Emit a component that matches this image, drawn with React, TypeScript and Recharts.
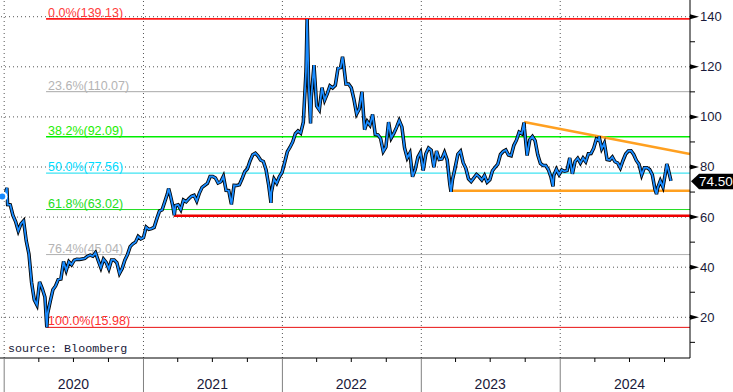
import React from 'react';
import { ComposedChart, Line, XAxis, YAxis, ReferenceLine } from 'recharts';

const DAY = 86400000;
const ms = (s: string) => Date.parse(s + 'T00:00:00Z');

// weekly Brent closes (Fridays), starting 2019-12-27
const firstWeek = '2019-12-27';
const brent2019 = [68.2];
const brent2020 = [
  68.6, 65.0, 64.9, 60.7, 58.2, 54.5, 57.3, 58.5, 50.5, 45.3, 33.9, 27.0, 24.9,
  34.1, 31.5, 28.1, 21.4, 26.4, 31.0, 32.5, 35.1, 35.3, 42.3, 38.7, 42.2, 41.0,
  42.8, 43.2, 43.1, 43.3, 43.5, 44.4, 44.8, 44.4, 45.8, 42.7, 39.8, 43.2, 41.9,
  39.3, 42.9, 42.9, 41.8, 37.5, 39.5, 42.8, 45.0, 48.2, 49.3, 50.0, 52.3, 51.3,
];
const brent2021 = [
  51.8, 56.0, 55.1, 55.4, 55.9, 59.3, 62.4, 62.9, 66.1, 69.4, 69.2, 64.5, 64.6,
  64.9, 63.0, 66.8, 66.1, 67.3, 68.3, 68.7, 66.4, 69.6, 71.9, 72.7, 73.5, 76.2,
  76.2, 75.6, 73.6, 74.1, 76.3, 70.7, 70.6, 65.2, 72.7, 72.6, 72.9, 75.3, 78.1,
  79.3, 82.4, 84.9, 85.5, 84.4, 82.7, 82.2, 78.9, 72.7, 69.9, 75.2, 73.5, 76.1, 77.8,
];
const brent2022 = [
  81.8, 86.1, 87.9, 90.0, 93.3, 94.4, 93.5, 97.9, 118.1, 112.7, 108.0, 120.7,
  104.4, 102.8, 111.7, 106.7, 109.3, 112.4, 111.6, 112.6, 119.4, 119.7, 122.0,
  113.1, 113.1, 111.6, 107.0, 101.2, 103.2, 110.0, 94.9, 98.2, 96.7, 101.0, 93.0,
  92.8, 91.4, 86.2, 88.0, 97.9, 91.6, 93.5, 95.8, 98.6, 96.0, 87.6, 83.6, 85.6,
  76.1, 79.0, 83.9, 85.9,
];
const brent2023 = [
  78.6, 85.3, 87.6, 86.7, 79.9, 86.4, 83.0, 83.2, 85.8, 82.8, 73.0, 75.0, 79.8,
  85.1, 86.3, 81.7, 79.5, 75.3, 74.2, 75.6, 77.0, 76.1, 74.8, 76.6, 73.9, 74.9,
  78.5, 79.9, 81.1, 85.0, 86.2, 86.8, 84.8, 84.5, 88.6, 90.7, 93.9, 93.3, 95.3,
  84.6, 90.9, 92.2, 90.5, 84.9, 81.4, 80.6, 80.6, 78.9, 75.8, 76.6, 79.1, 77.0,
];
const brent2024 = [
  78.8, 78.3, 78.6, 83.6, 77.3, 82.2, 83.5, 81.6, 83.6, 82.1, 85.3, 85.4, 87.5,
  91.2, 90.5, 87.3, 89.5, 83.0, 82.8, 84.0, 82.1, 81.6, 79.6, 82.6, 85.2, 86.4,
  86.5, 85.0, 82.6, 81.1, 76.8, 79.7, 79.7, 79.0, 76.9, 71.1, 71.6, 74.5, 72.0,
  78.1, 79.0, 74.5,
];

// intraweek extremes
const extremeDays = ['2020-01-08', '2020-04-22', '2021-03-08', '2021-03-23', '2021-08-20', '2021-12-02',
  '2022-03-07', '2022-03-16', '2022-06-08', '2023-03-20', '2023-09-28', '2023-12-13', '2024-04-12',
  '2024-09-10', '2024-10-07'];
const extremeVals = [71.7, 16.0, 71.4, 60.8, 65.0, 65.7, 139.1, 97.4, 124.0, 70.1, 97.7, 72.3, 92.2, 69.2, 81.2];

const lastPrice = 74.5;

const fibPct = ['0.0%', '23.6%', '38.2%', '50.0%', '61.8%', '76.4%', '100.0%'];
const fibVal = [139.13, 110.07, 92.09, 77.56, 63.02, 45.04, 15.98];
const fibStart = '2020-04-20';

const supportStart = '2021-03-22';
const supportVal = 60.5;
const floorStart = '2023-03-20';
const floorVal = 70.5;
const trendDates = ['2023-09-28', '2024-12-07'];
const trendVals = [98.0, 85.2];

const gridY = [20, 40, 60, 80, 100, 120, 140];
const years = [2020, 2021, 2022, 2023, 2024];
const yTicks = [10, 20, 30, 40, 50, 60, 70, 80, 90, 100, 110, 120, 130, 140];

const xMin = ms('2019-12-21');
const xMax = ms('2024-12-07');

const fibLine = ['#ff1a1a', '#a8a8a8', '#00ee00', '#3fe3f2', '#22dd22', '#b0b0b0', '#e81010'];
const fibText = ['#ff3c3c', '#b4b4b4', '#22ee00', '#00dcff', '#22dd22', '#b4b4b4', '#ff3030'];
const fibWidth = [1.6, 1, 1.6, 1.3, 1, 1, 1];

const weeklyVals = [brent2019, brent2020, brent2021, brent2022, brent2023, brent2024].flat();
const data = [
  ...weeklyVals.map((v, i) => ({ t: ms(firstWeek) + i * 7 * DAY, v })),
  ...extremeDays.map((d, i) => ({ t: ms(d), v: extremeVals[i] })),
].sort((a, b) => a.t - b.t);

const quarterTicks: number[] = [];
years.forEach((y) => [0, 3, 6, 9].forEach((m) => {
  const t = Date.UTC(y, m, 1);
  if (t < xMax) quarterTicks.push(t);
}));

const axisText = '#1a1a3a';
const sans = 'Liberation Sans, Arial, sans-serif';

const YTick = (p: any) => {
  const { x, y, payload } = p;
  const v = payload.value;
  if (v % 20 !== 0) return <line x1={x} x2={x + 5} y1={y} y2={y} stroke="#000" />;
  return (
    <g>
      <polygon points={`${x},${y - 2.5} ${x},${y + 2.5} ${x + 9},${y}`} fill="#000" />
      <text x={x + 10} y={y} dy="0.34em" fontSize={13} fontFamily={sans} fill={axisText}>{v}</text>
    </g>
  );
};

const XTick = (p: any) => {
  const { x, y, payload } = p;
  const d = new Date(payload.value);
  const m = d.getUTCMonth();
  if (m === 0) return <line x1={x} x2={x} y1={y} y2={y + 34} stroke="#808080" />;
  return (
    <g>
      <line x1={x} x2={x} y1={y} y2={y + 4} stroke="#000" />
      {m === 6 && (
        <text x={x} y={y + 31} textAnchor="middle" fontSize={14} fontFamily={sans} fill={axisText}>
          {d.getUTCFullYear()}
        </text>
      )}
    </g>
  );
};

const fibLabel = (i: number) => (props: any) => {
  const vb = props.viewBox ?? props;
  return (
    <text x={vb.x + 2} y={vb.y - 2} fontSize={12.5} fontFamily={sans} fill={fibText[i]}>
      {`${fibPct[i]}(${fibVal[i].toFixed(2)})`}
    </text>
  );
};

const priceTag = (props: any) => {
  const vb = props.viewBox ?? props;
  const x = vb.x + vb.width;
  const y = vb.y + 0.5;
  return (
    <g>
      <polygon
        points={`${x + 1},${y} ${x + 9},${y - 7.5} ${x + 43},${y - 7.5} ${x + 43},${y + 8} ${x + 9},${y + 8}`}
        fill="#000"
      />
      <text x={x + 26} y={y} dy="0.36em" textAnchor="middle" fontSize={13.5} fontFamily={sans} fill="#fff">
        {lastPrice.toFixed(2)}
      </text>
    </g>
  );
};

export default function App() {
  return (
    <div style={{ position: 'absolute', left: 0, top: 0, width: 733, height: 392, background: '#fff' }}>
      <ComposedChart width={733} height={392} data={data} margin={{ top: 0, right: 0, bottom: 0, left: 0 }}>
        <XAxis
          dataKey="t"
          type="number"
          scale="linear"
          domain={[xMin, xMax]}
          allowDataOverflow
          ticks={quarterTicks}
          tick={XTick}
          tickLine={false}
          tickSize={0}
          tickMargin={0}
          height={34}
          axisLine={{ stroke: '#000' }}
          interval={0}
        />
        <YAxis
          orientation="right"
          type="number"
          domain={[3.75, 146.67]}
          allowDataOverflow
          ticks={yTicks}
          tick={YTick}
          tickLine={false}
          tickSize={0}
          tickMargin={0}
          width={43}
          axisLine={{ stroke: '#000' }}
          interval={0}
        />
        {gridY.map((v) => (
          <ReferenceLine key={'gy' + v} y={v} stroke="#555" strokeDasharray="1 3" ifOverflow="visible" />
        ))}
        {years.map((yr) => (
          <ReferenceLine key={'gx' + yr} x={Date.UTC(yr, 0, 1)} stroke="#555" strokeDasharray="1 3" ifOverflow="visible" />
        ))}
        {fibVal.map((v, i) => (
          <ReferenceLine
            key={'fib' + i}
            segment={[{ x: ms(fibStart), y: v }, { x: xMax, y: v }]}
            stroke={fibLine[i]}
            strokeWidth={fibWidth[i]}
            ifOverflow="visible"
            label={fibLabel(i)}
          />
        ))}
        <ReferenceLine
          segment={[{ x: ms(supportStart), y: supportVal }, { x: xMax, y: supportVal }]}
          stroke="#ee0000"
          strokeWidth={2.5}
          ifOverflow="visible"
        />
        <ReferenceLine
          segment={[{ x: ms(floorStart), y: floorVal }, { x: xMax, y: floorVal }]}
          stroke="#ffa020"
          strokeWidth={2.5}
          ifOverflow="visible"
        />
        <ReferenceLine
          segment={[{ x: ms(trendDates[0]), y: trendVals[0] }, { x: ms(trendDates[1]), y: trendVals[1] }]}
          stroke="#ffa020"
          strokeWidth={2.5}
          ifOverflow="visible"
        />
        <Line type="linear" dataKey="v" stroke="#000" strokeWidth={3.5} dot={false} isAnimationActive={false} />
        <Line type="linear" dataKey="v" stroke="#1a8cff" strokeWidth={1.8} dot={false} isAnimationActive={false} />
        <ReferenceLine y={lastPrice} stroke="none" ifOverflow="visible" label={priceTag} />
      </ComposedChart>
      <svg width={733} height={392} style={{ position: 'absolute', left: 0, top: 0, pointerEvents: 'none' }}>
        <text x={8} y={352} fontSize={11.7} fontFamily="Liberation Mono, DejaVu Sans Mono, monospace" fill={axisText}>
          source: Bloomberg
        </text>
      </svg>
    </div>
  );
}
